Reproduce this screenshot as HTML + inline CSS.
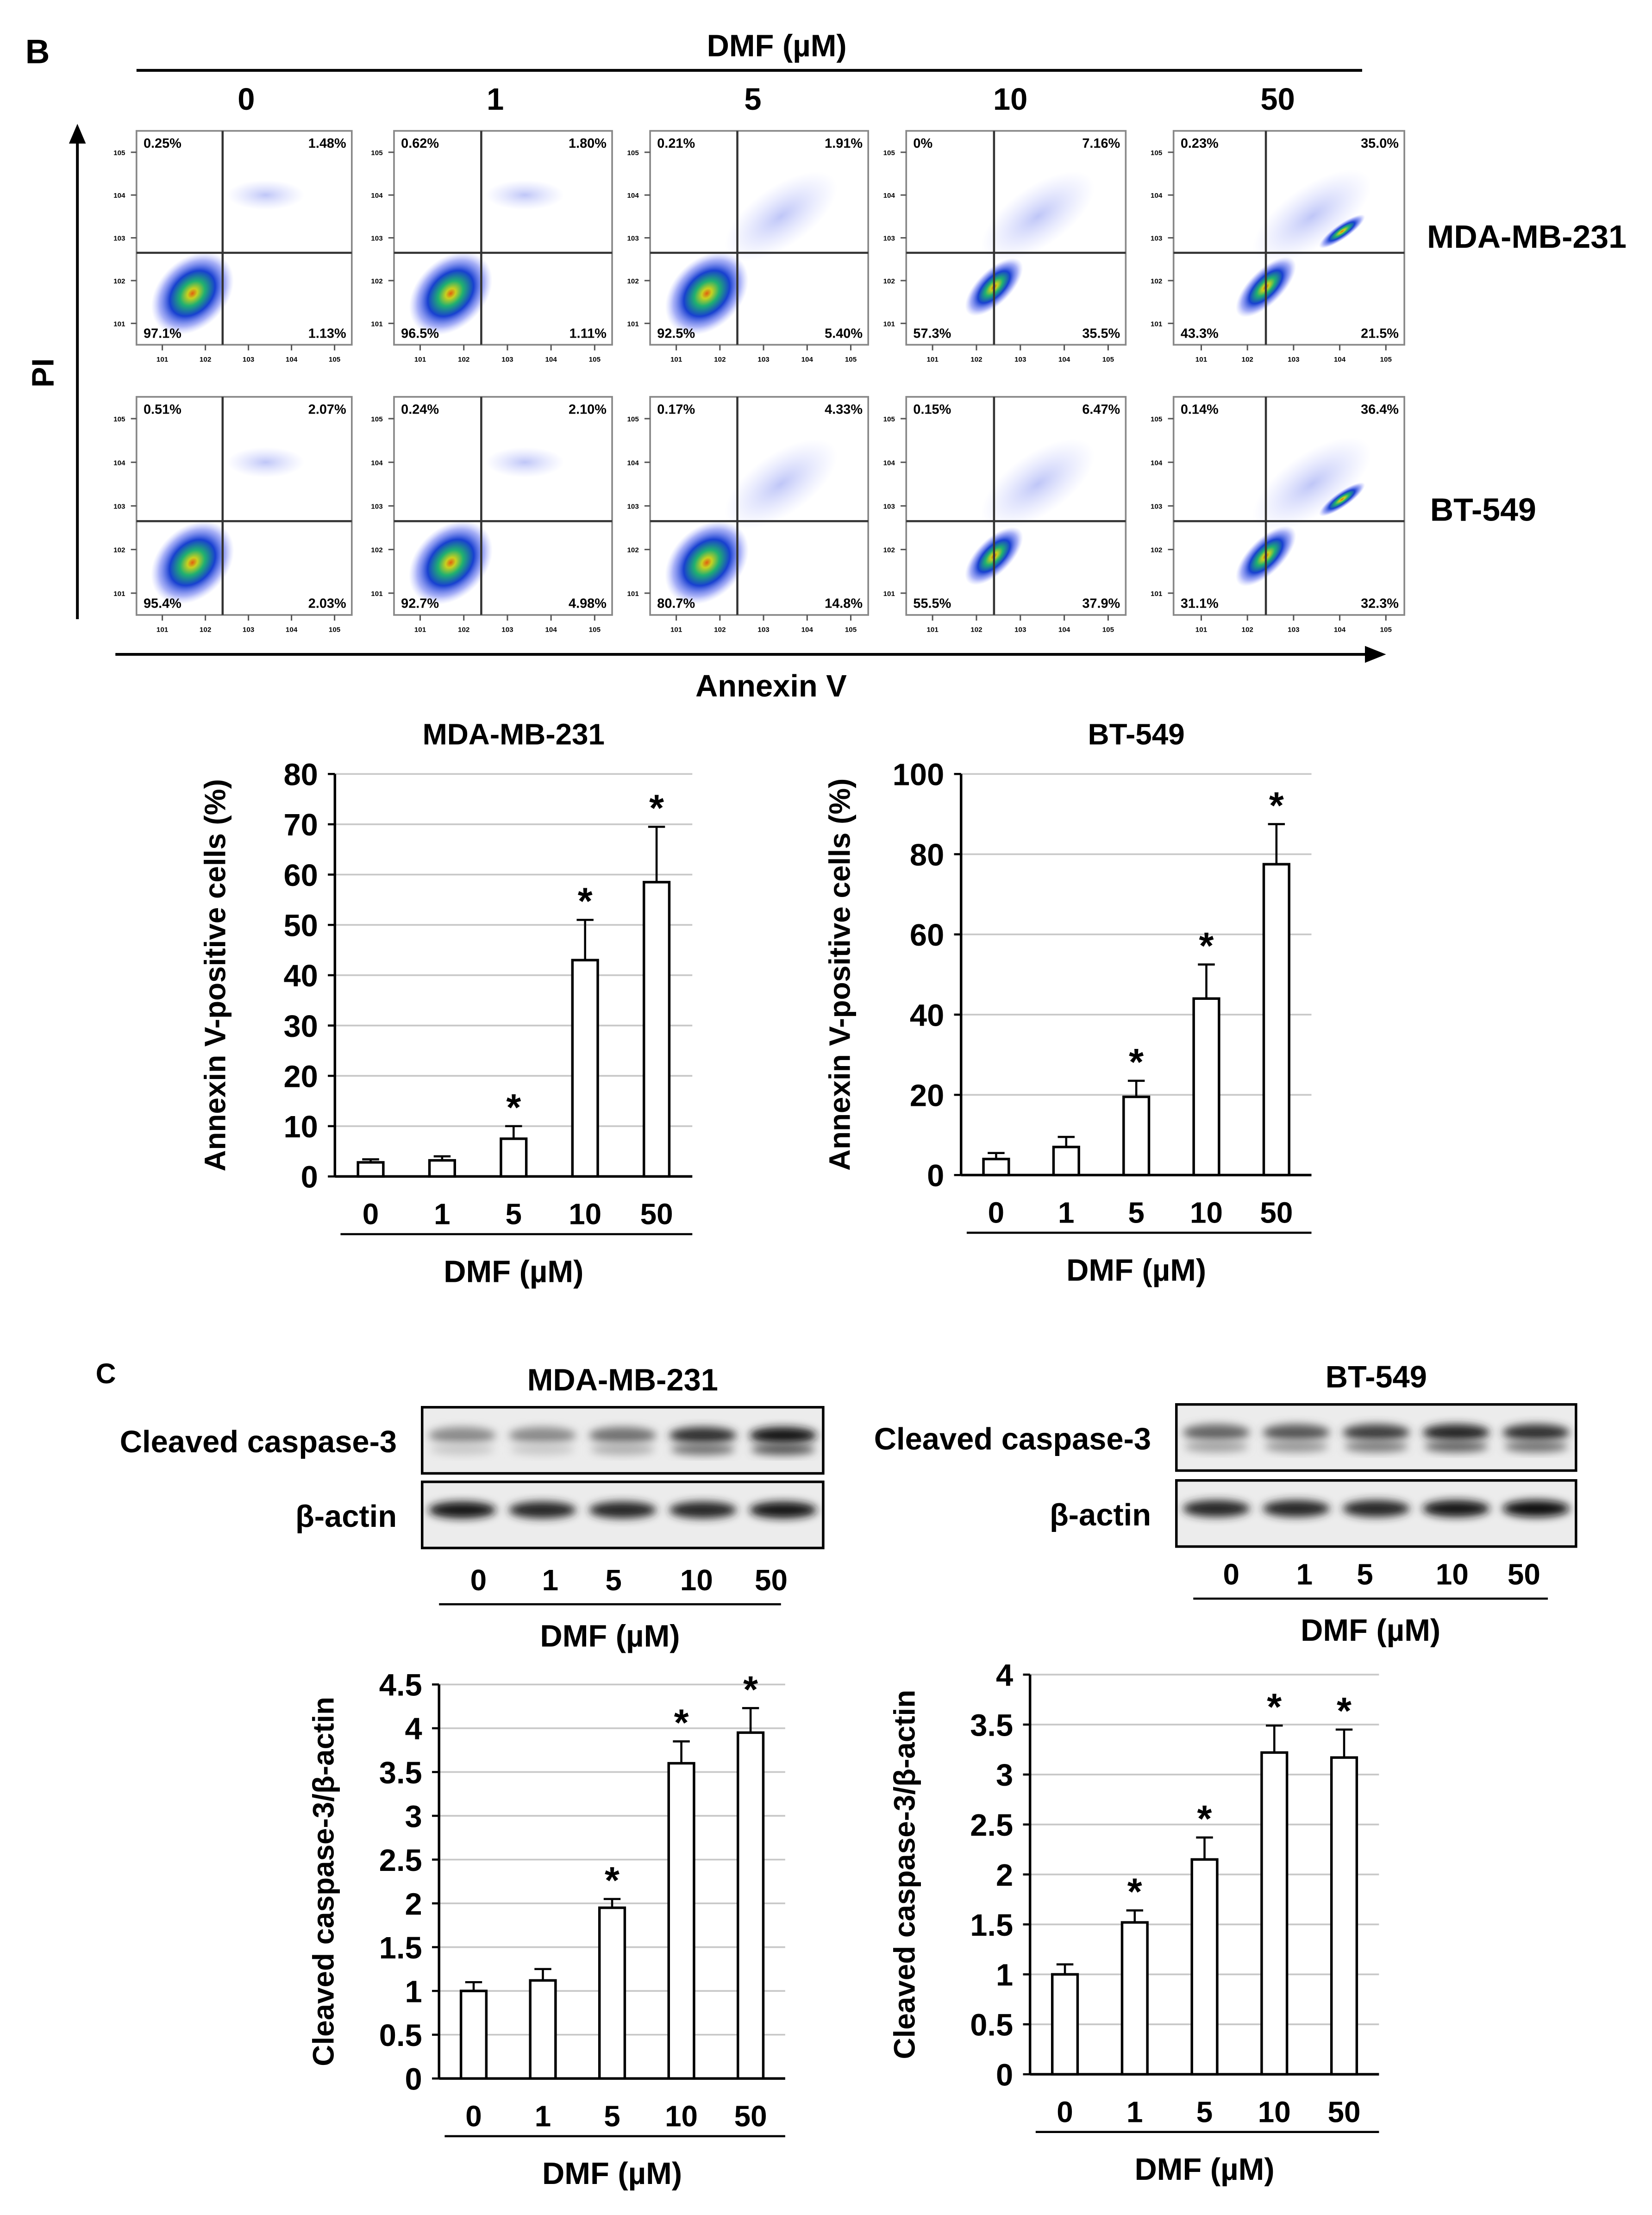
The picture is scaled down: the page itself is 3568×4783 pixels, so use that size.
<!DOCTYPE html>
<html><head><meta charset="utf-8">
<style>
html,body{margin:0;padding:0;background:#fff;}
svg{display:block;}
text{font-family:"Liberation Sans",Arial,sans-serif;font-weight:bold;fill:#000;}
</style></head>
<body>
<svg id="fig" width="3568" height="4783" viewBox="0 0 1174 1574" preserveAspectRatio="none" xmlns="http://www.w3.org/2000/svg">
<defs>
<radialGradient id="clu" cx="50%" cy="50%" r="50%">
<stop offset="0" stop-color="#e06010"/>
<stop offset="0.12" stop-color="#c8d020"/>
<stop offset="0.3" stop-color="#20b070"/>
<stop offset="0.55" stop-color="#1840d0"/>
<stop offset="0.8" stop-color="#6070f0" stop-opacity="0.55"/>
<stop offset="1" stop-color="#a0a8ff" stop-opacity="0"/>
</radialGradient>
<radialGradient id="haze" cx="50%" cy="50%" r="50%">
<stop offset="0" stop-color="#7080ee" stop-opacity="0.45"/>
<stop offset="1" stop-color="#a0a8ff" stop-opacity="0"/>
</radialGradient>
<filter id="blur" x="-50%" y="-50%" width="200%" height="200%"><feGaussianBlur stdDeviation="3"/></filter>
</defs>
<g id="flow"></g>
<g id="bars"></g>
<g id="blots"></g>
</svg>
<script>
// ---- Data ----
const doses = ["0","1","5","10","50"];
const flowRow1 = [["0.25%","1.48%","97.1%","1.13%"],["0.62%","1.80%","96.5%","1.11%"],["0.21%","1.91%","92.5%","5.40%"],["0%","7.16%","57.3%","35.5%"],["0.23%","35.0%","43.3%","21.5%"]];
const flowRow2 = [["0.51%","2.07%","95.4%","2.03%"],["0.24%","2.10%","92.7%","4.98%"],["0.17%","4.33%","80.7%","14.8%"],["0.15%","6.47%","55.5%","37.9%"],["0.14%","36.4%","31.1%","32.3%"]];
const mdaAnnexin = [2.8, 3.2, 7.5, 43, 58.5];
const mdaAnnexinErr = [0.6, 0.8, 2.5, 8, 11];
const mdaAnnexinSig = [false,false,true,true,true];
const mdaAnnexinTicks = [0,10,20,30,40,50,60,70,80];
const btAnnexin = [4, 7, 19.5, 44, 77.5];
const btAnnexinErr = [1.5, 2.5, 4, 8.5, 10];
const btAnnexinSig = [false,false,true,true,true];
const btAnnexinTicks = [0,20,40,60,80,100];
const mdaCasp = [1.0, 1.12, 1.95, 3.6, 3.95];
const mdaCaspErr = [0.1, 0.13, 0.1, 0.25, 0.28];
const mdaCaspSig = [false,false,true,true,true];
const mdaCaspTicks = ["0","0.5","1","1.5","2","2.5","3","3.5","4","4.5"];
const btCasp = [1.0, 1.52, 2.15, 3.22, 3.17];
const btCaspErr = [0.1, 0.12, 0.22, 0.27, 0.28];
const btCaspSig = [false,true,true,true,true];
const btCaspTicks = ["0","0.5","1","1.5","2","2.5","3","3.5","4"];
const mdaBlotCasp = [0.45,0.45,0.55,0.8,0.9];
const mdaBlotActin = [0.9,0.85,0.85,0.85,0.9];
const btBlotCasp = [0.6,0.65,0.75,0.85,0.8];
const btBlotActin = [0.85,0.85,0.85,0.9,0.95];

const NS="http://www.w3.org/2000/svg";
function el(tag, attrs, parent, txt){const e=document.createElementNS(NS,tag);for(const k in attrs)e.setAttribute(k,attrs[k]);if(txt!==undefined)e.textContent=txt;parent.appendChild(e);return e;}
const fig=document.getElementById('fig');
const flow=document.getElementById('flow');
const bars=document.getElementById('bars');
const blots=document.getElementById('blots');

// ---- Panel B header ----
let t;
t=el('text',{x:18,y:45,'font-size':24},flow,'B');

t=el('text',{x:552,y:40,'font-size':22,'text-anchor':'middle'},flow,'DMF (µM)');

el('line',{x1:97,y1:50,x2:968,y2:50,stroke:'#000','stroke-width':2},flow);
const colX=[175,352,535,718,908];
doses.forEach((d,i)=>{t=el('text',{x:colX[i],y:78,'font-size':22,'text-anchor':'middle'},flow,d);
});
t=el('text',{x:1085,y:176,'font-size':23,'text-anchor':'middle'},flow,'MDA-MB-231');

t=el('text',{x:1054,y:370,'font-size':23,'text-anchor':'middle'},flow,'BT-549');

// axes arrows
el('line',{x1:55,y1:440,x2:55,y2:100,stroke:'#000','stroke-width':2},flow);
el('polygon',{points:'49,102 61,102 55,88',fill:'#000'},flow);
el('line',{x1:82,y1:465,x2:972,y2:465,stroke:'#000','stroke-width':2},flow);
el('polygon',{points:'970,459 970,471 985,465',fill:'#000'},flow);
t=el('text',{x:0,y:0,'font-size':22,'text-anchor':'middle',transform:'translate(38,265) rotate(-90)'},flow,'PI');

t=el('text',{x:548,y:495,'font-size':22,'text-anchor':'middle'},flow,'Annexin V');


const boxX=[97,280,462,644,834];
const boxW=[153,155,155,156,164];
const rowY=[93,282], boxH=[152,155];
function flowPlot(r,i,labels){
  const g=el('g',{},flow);
  
  const x=boxX[i],y=rowY[r],w=boxW[i],h=boxH[r];
  const vx=x+w*0.4, hy=y+h*0.57;
  const cx=x+w*(i>=3?0.4:0.26), cy=y+h*(i>=3?0.73:0.76);
  if(i>=2) el('ellipse',{cx:x+w*0.6,cy:y+h*0.4,rx:w*0.3,ry:h*0.14,fill:'url(#haze)',transform:`rotate(-35 ${x+w*0.6} ${y+h*0.4})`},g);
  else el('ellipse',{cx:x+w*0.6,cy:y+h*0.3,rx:w*0.18,ry:h*0.07,fill:'url(#haze)'},g);
  if(i===4){el('ellipse',{cx:x+w*0.73,cy:y+h*0.47,rx:w*0.12,ry:h*0.035,fill:'url(#clu)',transform:`rotate(-35 ${x+w*0.73} ${y+h*0.47})`},g);}
  el('ellipse',{cx:cx,cy:cy,rx:w*(i>=3?0.17:0.22),ry:h*(i>=3?0.08:0.16),fill:'url(#clu)',transform:`rotate(-45 ${cx} ${cy})`},g);
  el('rect',{x:x,y:y,width:w,height:h,fill:'none',stroke:'#888','stroke-width':1.2},g);
  el('line',{x1:vx,y1:y,x2:vx,y2:y+h,stroke:'#333','stroke-width':1.5},g);
  el('line',{x1:x,y1:hy,x2:x+w,y2:hy,stroke:'#333','stroke-width':1.5},g);
  const fs=9.5;
  el('text',{x:x+5,y:y+12,'font-size':fs,fill:'#222'},g,labels[0]);
  el('text',{x:x+w-4,y:y+12,'font-size':fs,'text-anchor':'end',fill:'#222'},g,labels[1]);
  el('text',{x:x+5,y:y+h-5,'font-size':fs,fill:'#222'},g,labels[2]);
  el('text',{x:x+w-4,y:y+h-5,'font-size':fs,'text-anchor':'end',fill:'#222'},g,labels[3]);
  for(let k=0;k<5;k++){
    const ty=y+h*(0.1+k*0.2), tx=x+w*(0.12+k*0.2);
    el('line',{x1:x-4,y1:ty,x2:x,y2:ty,stroke:'#555','stroke-width':1},g);
    el('line',{x1:tx,y1:y+h,x2:tx,y2:y+h+4,stroke:'#555','stroke-width':1},g);
    el('text',{x:x-8,y:ty+2,'font-size':5,'font-weight':'normal','text-anchor':'end',fill:'#555'},g,'10'+(5-k));
    el('text',{x:tx,y:y+h+12,'font-size':5,'font-weight':'normal','text-anchor':'middle',fill:'#555'},g,'10'+(k+1));
  }
}
flowRow1.forEach((l,i)=>flowPlot(0,i,l));
flowRow2.forEach((l,i)=>flowPlot(1,i,l));

// ---- Bar charts ----
function barChart(o){
  const g=el('g',{},bars);
  
  const yS=v=>o.y0-(v/o.max)*(o.y0-o.yTop);
  o.ticks.forEach(tk=>{const v=parseFloat(tk);const yy=yS(v);
    if(v>0) el('line',{x1:o.ax,y1:yy,x2:o.right,y2:yy,stroke:'#c8c8c8','stroke-width':1.2},g);
    const tt=el('text',{x:o.ax-12,y:yy+8,'font-size':22,'text-anchor':'end'},g,tk);
    
    el('line',{x1:o.ax-5,y1:yy,x2:o.ax,y2:yy,stroke:'#000','stroke-width':1.5},g);
  });
  el('line',{x1:o.ax,y1:o.yTop,x2:o.ax,y2:o.y0,stroke:'#000','stroke-width':1.8},g);
  el('line',{x1:o.ax,y1:o.y0,x2:o.right,y2:o.y0,stroke:'#000','stroke-width':1.8},g);
  const n=o.vals.length, step=(o.right-o.ax)/n;
  o.vals.forEach((v,i)=>{
    const cx=o.ax+step*(i+0.5), top=yS(v), et=yS(v+o.err[i]);
    const b=el('rect',{x:cx-9,y:top,width:18,height:o.y0-top,fill:'#fff',stroke:'#000','stroke-width':1.8},g);
    
    el('line',{x1:cx,y1:top,x2:cx,y2:et,stroke:'#000','stroke-width':1.5},g);
    el('line',{x1:cx-6,y1:et,x2:cx+6,y2:et,stroke:'#000','stroke-width':1.5},g);
    if(o.sig[i]){const s=el('text',{x:cx,y:et-4,'font-size':27,'text-anchor':'middle'},g,'*');
      }
    const xl=el('text',{x:cx,y:o.y0+34,'font-size':21,'text-anchor':'middle'},g,doses[i]);
    
  });
  el('line',{x1:o.ax+4,y1:o.y0+41,x2:o.right,y2:o.y0+41,stroke:'#000','stroke-width':1.5},g);
  const xt=el('text',{x:(o.ax+o.right)/2,y:o.y0+75,'font-size':22,'text-anchor':'middle'},g,'DMF (µM)');
  
  const yt=el('text',{x:0,y:0,'font-size':21,'text-anchor':'middle',transform:`translate(${o.ytx},${(o.yTop+o.y0)/2}) rotate(-90)`},g,o.ytitle);
  
  if(o.title){const ti=el('text',{x:(o.ax+o.right)/2,y:o.yTop-21,'font-size':21,'text-anchor':'middle'},g,o.title);
    }
}
barChart({name:'annexin-chart-mda',vals:mdaAnnexin,err:mdaAnnexinErr,sig:mdaAnnexinSig,ticks:mdaAnnexinTicks.map(String),max:80,ax:238,right:492,yTop:550,y0:836,ytx:160,ytitle:'Annexin V-positive cells (%)',title:'MDA-MB-231'});
barChart({name:'annexin-chart-bt',vals:btAnnexin,err:btAnnexinErr,sig:btAnnexinSig,ticks:btAnnexinTicks.map(String),max:100,ax:683,right:932,yTop:550,y0:835,ytx:604,ytitle:'Annexin V-positive cells (%)',title:'BT-549'});
barChart({name:'caspase-chart-mda',vals:mdaCasp,err:mdaCaspErr,sig:mdaCaspSig,ticks:mdaCaspTicks,max:4.5,ax:312,right:558,yTop:1197,y0:1477,ytx:237,ytitle:'Cleaved caspase-3/β-actin'});
barChart({name:'caspase-chart-bt',vals:btCasp,err:btCaspErr,sig:btCaspSig,ticks:btCaspTicks,max:4,ax:732,right:980,yTop:1190,y0:1474,ytx:650,ytitle:'Cleaved caspase-3/β-actin'});

// ---- Panel C blots ----
t=el('text',{x:68,y:983,'font-size':20},blots,'C');

function blotSet(o){
  const g=el('g',{},blots);
  
  const ti=el('text',{x:(o.x+o.x2)/2,y:o.ty,'font-size':22,'text-anchor':'middle'},g,o.title);
  
  [[o.y1,o.casp,'Cleaved caspase-3',o.doubleBand],[o.y2,o.actin,'β-actin',false]].forEach(([yy,arr,lab,dbl])=>{
    el('rect',{x:o.x,y:yy,width:o.x2-o.x,height:47,fill:'#ececec',stroke:'#000','stroke-width':1.8},g);
    const lw=(o.x2-o.x)/5;
    arr.forEach((v,i)=>{const cx=o.x+lw*(i+0.5);const g2=Math.round(255*(1-v));
      el('ellipse',{cx:cx,cy:yy+20,rx:lw*0.42,ry:6,fill:`rgb(${g2},${g2},${g2})`,filter:'url(#blur)'},g);
      if(dbl) el('ellipse',{cx:cx,cy:yy+30,rx:lw*0.4,ry:4,fill:`rgb(${g2+60},${g2+60},${g2+60})`,filter:'url(#blur)'},g);
    });
    const l=el('text',{x:o.x-18,y:yy+32,'font-size':22,'text-anchor':'end'},g,lab);
    
  });
  o.lanes.forEach((lx,i)=>{const l=el('text',{x:lx,y:o.ly,'font-size':21,'text-anchor':'middle'},g,doses[i]);
    });
  el('line',{x1:o.lx1,y1:o.ly+10,x2:o.lx2,y2:o.ly+10,stroke:'#000','stroke-width':1.5},g);
  const d=el('text',{x:(o.lx1+o.lx2)/2,y:o.ly+40,'font-size':22,'text-anchor':'middle'},g,'DMF (µM)');
  
}
blotSet({name:'blot-mda',title:'MDA-MB-231',ty:988,x:300,x2:585,y1:1000,y2:1053,casp:mdaBlotCasp,actin:mdaBlotActin,doubleBand:true,lanes:[340,391,436,495,548],ly:1130,lx1:312,lx2:555});
blotSet({name:'blot-bt',title:'BT-549',ty:986,x:836,x2:1120,y1:998,y2:1052,casp:btBlotCasp,actin:btBlotActin,doubleBand:true,lanes:[875,927,970,1032,1083],ly:1126,lx1:848,lx2:1100});
</script>
</body></html>
